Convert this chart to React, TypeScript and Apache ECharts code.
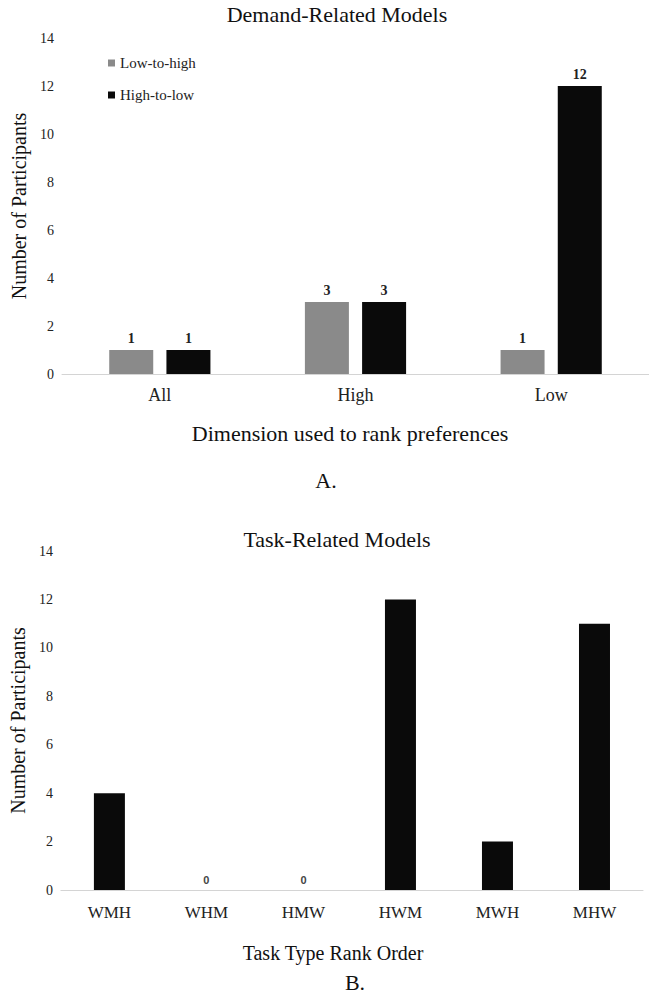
import React, { useEffect, useRef } from "react";
import * as echarts from "echarts";

// Panel A data
const demandCategories = ["All", "High", "Low"];
const lowToHigh = [1, 3, 1];
const highToLow = [1, 3, 12];

// Panel B data
const taskCategories = ["WMH", "WHM", "HMW", "HWM", "MWH", "MHW"];
const taskCounts = [4, 0, 0, 12, 2, 11];

const yTicks = { min: 0, max: 14, interval: 2 };

const SERIF = "Liberation Serif";
const GRAY = "#8a8a8a";
const BLACK = "#0a0a0a";
const AXIS = "#d4d4d4";

function txt(text: string, x: number, y: number, size: number) {
  return {
    type: "text",
    x,
    y,
    style: {
      text,
      font: `${size}px "Liberation Serif"`,
      fontFamily: SERIF,
      fontSize: size,
      fill: "#111",
      textAlign: "center",
      textVerticalAlign: "middle",
    },
  };
}

export default function App() {
  const ref = useRef<HTMLDivElement>(null);

  useEffect(() => {
    if (!ref.current) return;
    const chart = echarts.init(ref.current, undefined, { renderer: "svg" });

    const yAxisCommon = {
      type: "value",
      min: yTicks.min,
      max: yTicks.max,
      interval: yTicks.interval,
      splitLine: { show: false },
      axisLine: { show: false },
      axisTick: { show: false },
      nameLocation: "middle",
      nameRotate: 90,
      nameTextStyle: { fontFamily: SERIF, fontSize: 20, color: "#111" },
      axisLabel: { fontFamily: SERIF, fontSize: 14, color: "#222" },
    };

    const xAxisCommon = {
      type: "category",
      axisLine: { show: true, lineStyle: { color: AXIS, width: 1 } },
      axisTick: { show: false },
      axisLabel: { fontFamily: SERIF, fontSize: 18, color: "#222" },
    };

    const option = {
      animation: false,
      backgroundColor: "#ffffff",
      textStyle: { fontFamily: SERIF },
      grid: [
        { left: 62, top: 38, width: 598, height: 336 },
        { left: 55, top: 551, width: 588, height: 339 },
      ],
      legend: {
        orient: "vertical",
        left: 103,
        top: 50,
        itemWidth: 7,
        itemHeight: 7,
        itemGap: 16,
        icon: "rect",
        data: ["Low-to-high", "High-to-low"],
        textStyle: { fontFamily: SERIF, fontSize: 15, color: "#222", lineHeight: 16 },
      },
      xAxis: [
        {
          ...xAxisCommon,
          gridIndex: 0,
          data: demandCategories,
          axisLabel: { ...xAxisCommon.axisLabel, margin: 12 },
        },
        {
          ...xAxisCommon,
          gridIndex: 1,
          data: taskCategories,
          axisLabel: { ...xAxisCommon.axisLabel, fontSize: 17, margin: 14 },
        },
      ],
      yAxis: [
        { ...yAxisCommon, gridIndex: 0, name: "Number of Participants", nameGap: 32 },
        { ...yAxisCommon, gridIndex: 1, name: "Number of Participants", nameGap: 32 },
      ],
      series: [
        {
          name: "Low-to-high",
          type: "bar",
          xAxisIndex: 0,
          yAxisIndex: 0,
          data: lowToHigh,
          barWidth: 44,
          barGap: "30%",
          itemStyle: { color: GRAY },
          label: {
            show: true,
            position: "top",
            distance: 5,
            fontFamily: SERIF,
            fontSize: 14,
            fontWeight: "bold",
            color: "#222",
          },
        },
        {
          name: "High-to-low",
          type: "bar",
          xAxisIndex: 0,
          yAxisIndex: 0,
          data: highToLow,
          barWidth: 44,
          barGap: "30%",
          itemStyle: { color: BLACK },
          label: {
            show: true,
            position: "top",
            distance: 5,
            fontFamily: SERIF,
            fontSize: 14,
            fontWeight: "bold",
            color: "#222",
          },
        },
        {
          name: "Task",
          type: "bar",
          xAxisIndex: 1,
          yAxisIndex: 1,
          barWidth: 31,
          itemStyle: { color: BLACK },
          data: taskCounts.map((v) => ({
            value: v,
            label: {
              show: v === 0,
              position: "top",
              distance: 5,
              fontFamily: "Liberation Sans",
              fontSize: 11,
              fontWeight: "bold",
              color: "#444",
            },
          })),
        },
      ],
      graphic: [
        txt("Demand-Related Models", 337, 14, 22),
        txt("Dimension used to rank preferences", 350, 433, 22),
        txt("A.", 326, 480, 22),
        txt("Task-Related Models", 337, 539, 22),
        txt("Task Type Rank Order", 333, 953, 20),
        txt("B.", 355, 982, 22),
      ],
    };

    chart.setOption(option as any);
    return () => chart.dispose();
  }, []);

  return (
    <div
      ref={ref}
      style={{ position: "absolute", left: 0, top: 0, width: 649, height: 1000, background: "#fff" }}
    />
  );
}
